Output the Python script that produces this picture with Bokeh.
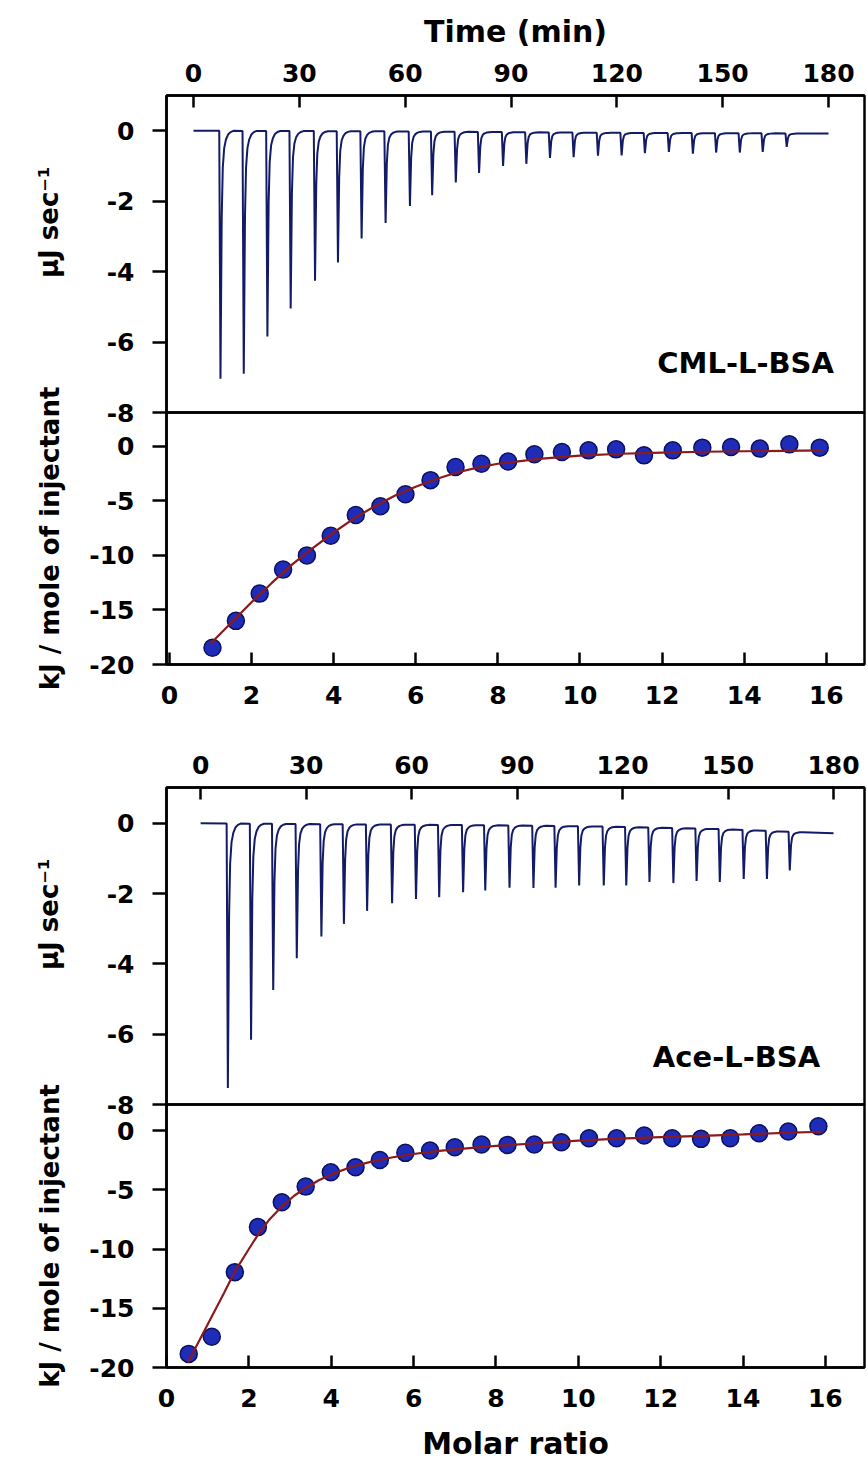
import numpy as np
from bokeh.plotting import figure
from bokeh.models import Range1d, FixedTicker, Label, CustomJSTickFormatter
from bokeh.layouts import column
from bokeh.embed import file_html
from bokeh.resources import INLINE

# ---------------- CML-L-BSA ----------------
cml_inj_time = [7.3, 13.9, 20.6, 27.2, 34.1, 40.6, 47.3, 54.1, 61.0, 67.3, 74.0, 80.6, 87.4,
                94.0, 100.7, 107.4, 114.3, 121.0, 127.6, 134.4, 141.2, 147.8, 154.5, 161.0, 167.8]
cml_peak = [-7.04, -6.90, -5.84, -5.05, -4.26, -3.74, -3.06, -2.62, -2.14, -1.83, -1.47, -1.20, -1.00,
            -0.94, -0.77, -0.75, -0.71, -0.70, -0.64, -0.60, -0.65, -0.62, -0.62, -0.60, -0.46]
cml_base_time = [0, 60, 120, 180]
cml_base = [0.0, -0.02, -0.06, -0.08]

cml_ratio = [1.05, 1.62, 2.20, 2.77, 3.35, 3.93, 4.54, 5.14, 5.75, 6.36, 6.97, 7.60,
             8.25, 8.89, 9.56, 10.21, 10.88, 11.56, 12.26, 12.98, 13.68, 14.38, 15.10, 15.84]
cml_heat = [-18.47, -16.0, -13.5, -11.3, -10.0, -8.2, -6.3, -5.5, -4.4, -3.1, -1.9, -1.6,
            -1.4, -0.73, -0.52, -0.37, -0.28, -0.83, -0.37, -0.12, -0.06, -0.21, 0.18, -0.12]
cml_fit_ratio = [1.0, 1.5, 2.0, 2.5, 3.0, 3.5, 4.0, 4.5, 5.0, 5.5, 6.0, 6.5, 7.0, 7.5, 8.0,
                 9.0, 10.0, 11.0, 12.0, 13.0, 14.0, 15.0, 15.9]
cml_fit_heat = [-18.1, -16.2, -14.3, -12.5, -10.8, -9.3, -7.9, -6.6, -5.5, -4.5, -3.7, -3.0,
                -2.4, -1.95, -1.6, -1.15, -0.85, -0.68, -0.57, -0.5, -0.45, -0.41, -0.38]

# ---------------- Ace-L-BSA ----------------
ace_inj_time = [7.4, 14.0, 20.3, 27.0, 34.0, 40.4, 47.0, 54.1, 60.9, 67.5, 74.3, 80.6, 87.5,
                94.3, 100.6, 107.3, 114.3, 120.7, 127.3, 134.1, 140.7, 147.3, 154.1, 160.7, 167.2]
ace_peak = [-7.53, -6.16, -4.74, -3.84, -3.22, -2.86, -2.49, -2.27, -2.15, -2.10, -1.96, -1.91, -1.83,
            -1.84, -1.83, -1.77, -1.77, -1.77, -1.67, -1.70, -1.64, -1.67, -1.58, -1.58, -1.34]
ace_base_time = [0, 60, 90, 120, 150, 170, 180]
ace_base = [0.0, -0.04, -0.06, -0.10, -0.17, -0.25, -0.28]

ace_ratio = [0.54, 1.10, 1.66, 2.22, 2.80, 3.38, 3.99, 4.59, 5.18, 5.80, 6.40, 7.00, 7.65,
             8.28, 8.93, 9.59, 10.26, 10.93, 11.60, 12.28, 12.98, 13.69, 14.39, 15.10, 15.83]
ace_heat = [-18.85, -17.4, -11.95, -8.15, -6.05, -4.73, -3.52, -3.1, -2.48, -1.88, -1.69, -1.41, -1.18,
            -1.21, -1.18, -0.98, -0.65, -0.65, -0.42, -0.65, -0.70, -0.65, -0.23, -0.08, 0.36]
ace_fit_ratio = [0.52, 0.8, 1.1, 1.4, 1.66, 2.0, 2.22, 2.5, 2.8, 3.1, 3.4, 3.7, 4.0, 4.5, 5.0,
                 5.5, 6.0, 6.5, 7.0, 8.0, 9.0, 10.0, 11.0, 12.0, 13.0, 14.0, 15.0, 15.9]
ace_fit_heat = [-19.55, -17.7, -15.7, -13.7, -11.9, -10.0, -8.8, -7.5, -6.4, -5.5, -4.8, -4.2, -3.7,
                -3.05, -2.6, -2.25, -1.98, -1.76, -1.58, -1.3, -1.07, -0.85, -0.68, -0.55, -0.44,
                -0.33, -0.2, -0.1]

time_ticks = [0, 30, 60, 90, 120, 150, 180]
power_ticks = [0, -2, -4, -6, -8]
heat_ticks = [0, -5, -10, -15, -20]
ratio_ticks = [0, 2, 4, 6, 8, 10, 12, 14, 16]

# shape of a single injection spike (minutes after injection, fraction of peak)
PULSE_DT = [0.0, 0.35, 0.7, 1.0, 1.4, 1.9, 2.5, 3.2, 4.0]
PULSE_FRAC = [0.0, 1.0, 0.35, 0.15, 0.07, 0.035, 0.015, 0.005, 0.0]

FONT = "DejaVu Sans"
TRACE = "#131b66"
DOT_FILL = "#1f2cb8"
DOT_EDGE = "#0b1060"
FIT = "#8b1a1a"
FRAME_W = 698
OVERLAP = 16      # room under a thermogram for its "-8" label
LABEL_ROOM = 40   # room above a heat panel for its long axis title

plain = CustomJSTickFormatter(code="return String(tick);")


def thermogram(inj_t, peaks, base_t, base_v, t_end=180.0):
    xs = [0.0]
    ys = [float(np.interp(0.0, base_t, base_v))]
    for t0, pk in zip(inj_t, peaks):
        for dt, fr in zip(PULSE_DT, PULSE_FRAC):
            t = t0 + dt
            b = float(np.interp(t, base_t, base_v))
            xs.append(t)
            ys.append(b + (pk - b) * fr)
    xs.append(t_end)
    ys.append(float(np.interp(t_end, base_t, base_v)))
    return xs, ys


def style_axis(ax, label_size="25px"):
    ax.axis_line_width = 2.5
    ax.axis_line_color = "black"
    ax.major_tick_line_width = 2.5
    ax.major_tick_line_color = "black"
    ax.minor_tick_line_color = None
    ax.major_label_text_font = FONT
    ax.major_label_text_font_style = "bold"
    ax.major_label_text_font_size = label_size
    ax.major_label_text_color = "black"
    ax.axis_label_text_font = FONT
    ax.axis_label_text_font_style = "bold"
    ax.axis_label_text_color = "black"
    ax.formatter = plain


def base_style(p):
    p.grid.visible = False
    p.outline_line_color = "black"
    p.outline_line_width = 2.5
    p.outline_line_alpha = 1.0
    p.background_fill_alpha = 0
    p.border_fill_alpha = 0


def thermo_panel(inj_t, peaks, base_t, base_v, xr, yr, top_border, with_title, tag, tag_x, tag_y):
    p = figure(frame_width=FRAME_W, frame_height=317, x_range=Range1d(*xr), y_range=Range1d(*yr),
               x_axis_location="above", output_backend="svg", toolbar_location=None,
               min_border_left=166, min_border_right=4, min_border_top=top_border,
               min_border_bottom=OVERLAP)
    base_style(p)
    xa = p.xaxis[0]
    style_axis(xa)
    xa.ticker = FixedTicker(ticks=time_ticks)
    xa.major_tick_in = 12
    xa.major_tick_out = 0
    xa.major_label_standoff = 14
    if with_title:
        xa.axis_label = "Time (min)"
        xa.axis_label_text_font_size = "30px"
        xa.axis_label_standoff = 12
    ya = p.yaxis[0]
    style_axis(ya)
    ya.ticker = FixedTicker(ticks=power_ticks)
    ya.major_tick_out = 14
    ya.major_tick_in = 0
    ya.major_label_standoff = 18
    ya.axis_label = "\u00a0" * 7 + "\u03bcJ sec\u207b\u00b9"
    ya.axis_label_text_font_size = "26px"
    ya.axis_label_standoff = 40

    xs, ys = thermogram(inj_t, peaks, base_t, base_v)
    p.line(xs, ys, line_color=TRACE, line_width=2.0)
    p.add_layout(Label(x=tag_x, y=tag_y, text=tag, text_font=FONT, text_font_style="bold",
                       text_font_size="29px", text_align="center", text_baseline="middle",
                       text_color="black"))
    return p


def heat_panel(ratio, heat, fit_r, fit_h, xr, yr, frame_h, bottom_border, with_label):
    p = figure(frame_width=FRAME_W, frame_height=frame_h, x_range=Range1d(*xr), y_range=Range1d(*yr),
               output_backend="svg", toolbar_location=None,
               min_border_left=166, min_border_right=4, min_border_top=LABEL_ROOM,
               min_border_bottom=bottom_border, margin=(-(OVERLAP + LABEL_ROOM), 0, 0, 0))
    base_style(p)
    xa = p.xaxis[0]
    style_axis(xa)
    xa.ticker = FixedTicker(ticks=ratio_ticks)
    xa.major_tick_in = 12
    xa.major_tick_out = 0
    xa.major_label_standoff = 21
    if with_label:
        xa.axis_label = "Molar ratio"
        xa.axis_label_text_font_size = "30px"
        xa.axis_label_standoff = 16
    ya = p.yaxis[0]
    style_axis(ya)
    ya.ticker = FixedTicker(ticks=heat_ticks)
    ya.major_tick_out = 14
    ya.major_tick_in = 0
    ya.major_label_standoff = 18
    ya.axis_label = "kJ / mole of injectant"
    ya.axis_label_text_font_size = "26px"
    ya.axis_label_standoff = 21

    p.scatter(ratio, heat, size=17, fill_color=DOT_FILL, line_color=DOT_EDGE, line_width=1.5)
    p.line(fit_r, fit_h, line_color=FIT, line_width=2.2)
    return p


p1 = thermo_panel(cml_inj_time, cml_peak, cml_base_time, cml_base,
                  (-7.65, 190.2), (-8.0, 1.0), 95, True, "CML-L-BSA", 156.5, -6.6)
p2 = heat_panel(cml_ratio, cml_heat, cml_fit_ratio, cml_fit_heat,
                (-0.07, 16.93), (-20.0, 3.1), 252, 50, False)
p3 = thermo_panel(ace_inj_time, ace_peak, ace_base_time, ace_base,
                  (-9.7, 188.8), (-8.0, 1.02), 73, False, "Ace-L-BSA", 152.4, -6.64)
p4 = heat_panel(ace_ratio, ace_heat, ace_fit_ratio, ace_fit_heat,
                (0.0, 16.95), (-20.0, 2.2), 263, 95, True)

layout = column(p1, p2, p3, p4, spacing=0)

open("out.html", "w").write(file_html(layout, INLINE))
